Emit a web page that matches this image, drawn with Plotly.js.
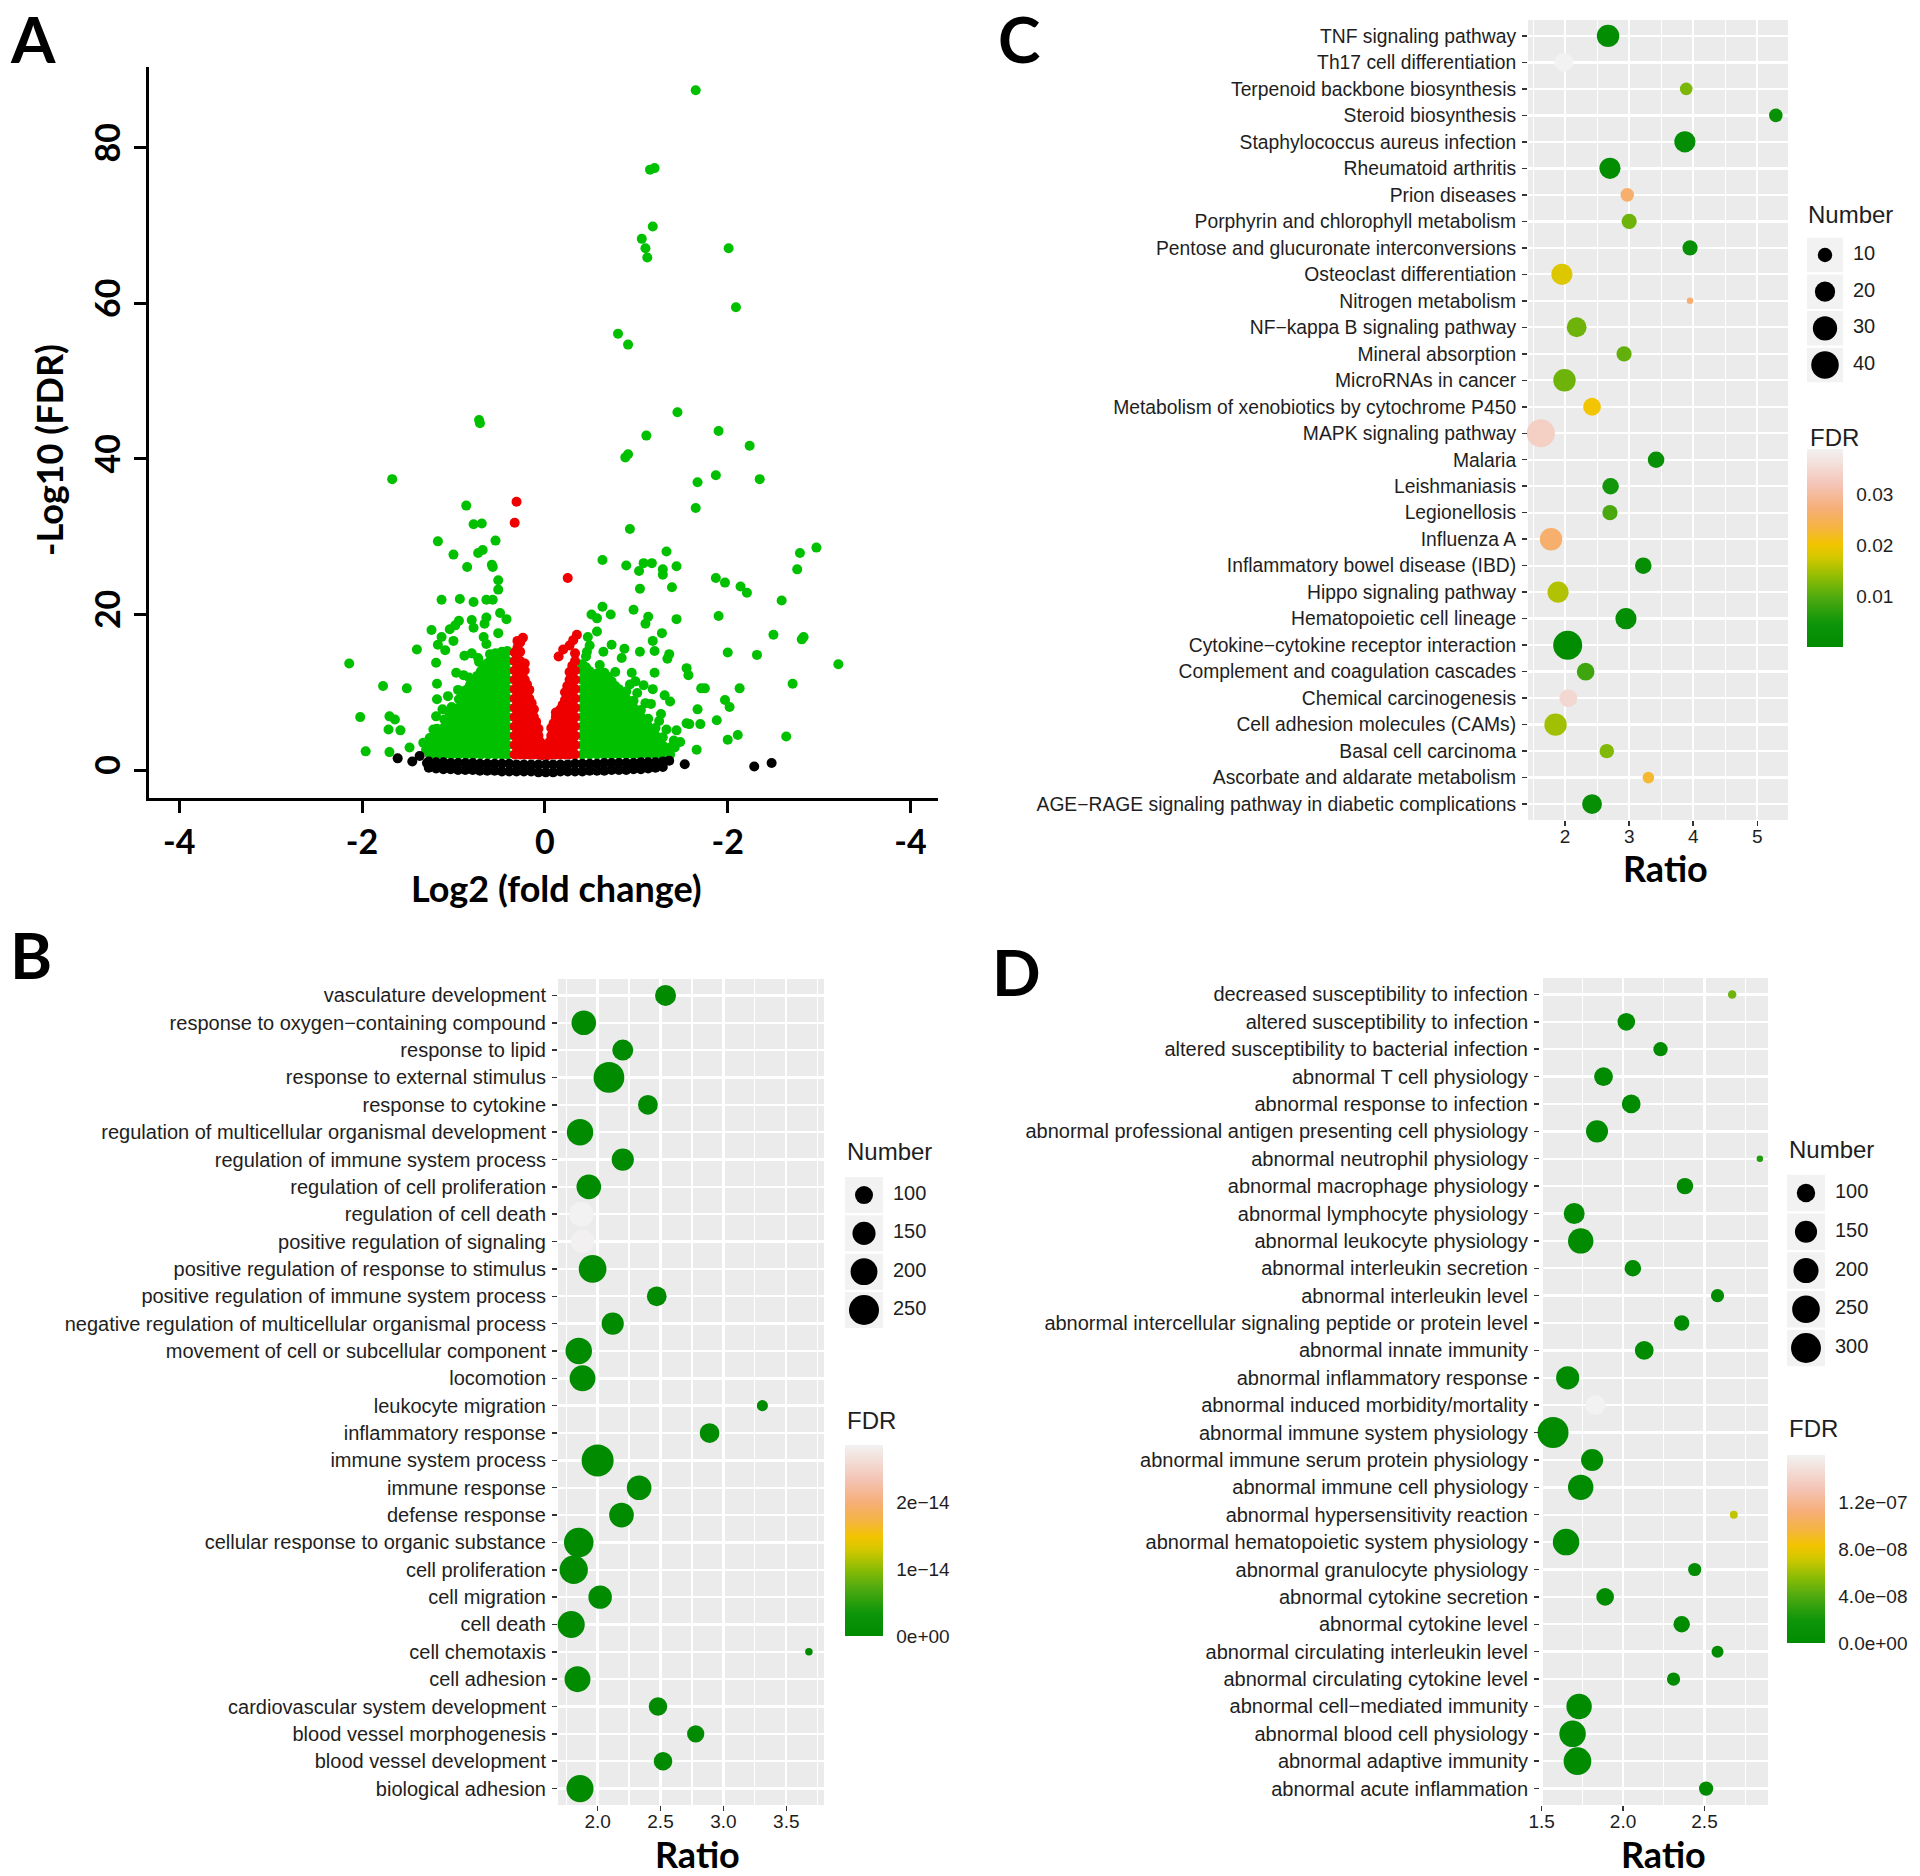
<!DOCTYPE html>
<html><head><meta charset="utf-8">
<script src="https://cdn.plot.ly/plotly-3.0.1.min.js"></script>
<style>html,body{margin:0;padding:0;background:#fff}#chart{width:1920px;height:1876px}</style>
</head><body><div id="chart"></div>
<script>
// ================= DATA =================
// ---- Panel A: volcano plot (log2 fold change, -log10 FDR) ----
const volcanoXTicks = [-4, -2, 0, 2, 4];
const volcanoXTickText = ['-4', '-2', '0', '-2', '-4'];
const volcanoYTicks = [0, 20, 40, 60, 80];

// scattered significant points (green)
const greenPoints = [
 [1.65,87.4],[1.15,77.2],[1.20,77.4],[1.18,69.9],[1.06,68.3],[1.10,67.1],[1.12,65.9],[2.01,67.1],[2.09,59.5],
 [0.80,56.1],[0.91,54.7],[1.45,46.0],[1.11,43.0],[1.90,43.6],[-0.72,45.0],[-0.71,44.6],[2.24,41.7],[0.88,40.2],
 [0.91,40.6],[-1.67,37.4],[1.87,37.9],[2.35,37.4],[1.67,37.0],[1.65,33.7],[-0.86,34.0],[0.93,31.0],[-0.78,31.6],
 [-0.69,31.7],[2.97,28.6],[-1.17,29.4],[-0.54,29.5],[2.79,27.9],[1.33,28.1],[-1.00,27.7],[-0.73,27.9],[-0.68,28.3],
 [0.63,27.0],[0.89,26.3],[1.03,25.6],[1.08,26.6],[1.17,26.6],[1.44,26.2],[1.29,25.8],[1.29,25.1],[2.76,25.8],
 [-0.85,26.1],[-0.58,26.4],[-0.57,26.1],[1.04,23.3],[1.39,23.5],[1.87,24.7],[1.97,24.1],[2.14,23.6],[2.21,22.8],
 [-0.51,24.4],[-0.51,23.2],[-1.13,21.9],[-0.93,22.0],[-0.78,21.6],[-0.64,21.9],[-0.57,21.9],[2.59,21.8],[0.63,21.0],
 [0.51,20.0],[0.57,19.5],[0.72,20.0],[0.97,20.6],[1.13,19.7],[1.10,18.8],[1.90,19.8],[1.44,19.4],[-0.49,20.2],
 [-0.42,19.4],[-0.94,19.2],[-1.04,18.1],[-0.98,18.6],[-0.80,19.3],[-0.78,18.3],[-0.64,19.6],[-0.66,18.8],[-1.24,18.0],
 [2.50,17.4],[2.83,17.1],[2.81,16.8],[1.28,17.6],[0.57,17.8],[-1.13,17.1],[-1.17,16.1],[-1.00,16.6],[-0.67,17.1],
 [-0.64,16.2],[-0.51,17.6],[-1.40,15.5],[-1.09,15.4],[2.00,15.1],[2.32,14.8],[3.21,13.6],[-2.14,13.7],[-1.19,13.8],
 [-0.88,14.7],[-0.80,15.0],[-0.73,14.4],[0.47,17.1],[0.49,16.0],[0.46,15.2],[0.64,15.2],[0.73,16.1],[0.87,15.6],
 [0.84,14.4],[1.04,15.2],[1.18,16.6],[1.20,15.3],[1.36,14.9],[1.34,14.3],[1.55,13.1],[1.57,12.2],[0.95,12.5],
 [1.20,12.5],[2.71,11.1],[2.13,10.5],[-1.77,10.8],[-1.51,10.5],[1.71,10.5],[1.75,10.5],[1.18,10.4],[-0.97,12.5],
 [-0.89,12.2],[-0.67,12.0],[-1.18,11.1],[-1.06,9.5],[-1.18,9.1],[1.37,8.8],[1.16,8.5],[1.97,9.0],[2.02,8.1],
 [1.67,7.8],[-1.02,8.1],[-1.19,6.9],[1.88,6.4],[1.58,5.9],[1.70,5.9],[1.44,5.1],[-2.02,6.8],[-1.70,6.9],[-1.64,6.5],
 [-1.71,5.2],[-1.58,5.1],[2.11,4.5],[2.00,3.9],[2.64,4.3],[1.48,3.6],[1.42,2.9],[1.66,2.6],[-1.48,2.9],[-1.96,2.4],
 [-1.70,2.3],[1.55,6.0],[1.27,7.2],[1.31,9.6],[1.08,10.9],[0.99,11.4],[-1.12,7.8],[-1.33,3.5],
 [-0.95,10.3],[-0.83,11.9],[-0.60,14.9],[-0.72,13.9],[-1.05,7.5],[-1.22,5.2],[-1.30,2.6],[0.45,14.6],[0.60,13.5],
 [0.77,12.6],[0.93,11.0],[1.01,9.9],[1.10,8.6],[1.25,6.3],[1.33,5.2],[1.41,3.8]
];
// dense significant cloud (green): [log2FC, [-log10 FDR values]]
const greenColumns = [
 [-1.26,[2.0,3.0,4.1]],
 [-1.22,[2.6,3.6]],
 [-1.18,[2.0,3.1,4.2,5.3]],
 [-1.14,[2.6,3.7,4.8]],
 [-1.10,[2.0,3.2,4.3,5.5,6.5]],
 [-1.06,[2.6,3.8,4.9,6.0]],
 [-1.02,[2.0,3.2,4.4,5.6,6.8]],
 [-0.98,[2.6,3.8,5.0,6.2,7.4]],
 [-0.94,[2.0,3.2,4.4,5.6,6.8,8.0,9.1]],
 [-0.90,[2.6,3.8,5.0,6.2,7.4,8.6,9.7]],
 [-0.86,[2.0,3.2,4.4,5.6,6.8,8.0,9.2,10.3]],
 [-0.82,[2.6,3.8,5.0,6.2,7.4,8.6,9.8,10.9]],
 [-0.78,[2.0,3.2,4.4,5.6,6.8,8.0,9.2,10.4,11.5]],
 [-0.74,[2.6,3.8,5.0,6.2,7.4,8.6,9.8,11.0,12.1]],
 [-0.70,[2.0,3.2,4.4,5.6,6.8,8.0,9.2,10.4,11.6,12.7]],
 [-0.66,[2.6,3.8,5.0,6.2,7.4,8.6,9.8,11.0,12.2,13.2]],
 [-0.62,[2.0,3.2,4.4,5.6,6.8,8.0,9.2,10.4,11.6,12.8,13.8]],
 [-0.58,[2.6,3.8,5.0,6.2,7.4,8.6,9.8,11.0,12.2,13.4,14.4]],
 [-0.54,[2.0,3.2,4.4,5.6,6.8,8.0,9.2,10.4,11.6,12.8,14.0,15.0]],
 [-0.50,[2.6,3.8,5.0,6.2,7.4,8.6,9.8,11.0,12.2,13.4,14.6]],
 [-0.47,[2.0,3.2,4.4,5.6,6.8,8.0,9.2,10.4,11.6,12.8,14.0,15.2]],
 [-0.44,[2.6,3.8,5.0,6.2,7.4,8.6,9.8,11.0,12.2,13.4,14.6]],
 [-0.41,[2.0,3.2,4.4,5.6,6.8,8.0,9.2,10.4,11.6,12.8,14.0,15.3]],
 [0.41,[2.0,3.2,4.4,5.6,6.8,8.0,9.2,10.4,11.6,12.8,13.6]],
 [0.45,[2.6,3.8,5.0,6.2,7.4,8.6,9.8,11.0,12.2,13.2]],
 [0.49,[2.0,3.2,4.4,5.6,6.8,8.0,9.2,10.4,11.6,12.7]],
 [0.53,[2.6,3.8,5.0,6.2,7.4,8.6,9.8,11.0,12.0]],
 [0.57,[2.0,3.2,4.4,5.6,6.8,8.0,9.2,10.4,11.6,12.4]],
 [0.61,[2.6,3.8,5.0,6.2,7.4,8.6,9.8,11.0,12.1]],
 [0.65,[2.0,3.2,4.4,5.6,6.8,8.0,9.2,10.4,11.6,12.5]],
 [0.69,[2.6,3.8,5.0,6.2,7.4,8.6,9.8,11.0,12.0]],
 [0.73,[2.0,3.2,4.4,5.6,6.8,8.0,9.2,10.4,11.4]],
 [0.77,[2.6,3.8,5.0,6.2,7.4,8.6,9.8,10.8]],
 [0.81,[2.0,3.2,4.4,5.6,6.8,8.0,9.2,10.4]],
 [0.85,[2.6,3.8,5.0,6.2,7.4,8.6,9.7]],
 [0.89,[2.0,3.2,4.4,5.6,6.8,8.0,9.2,10.1]],
 [0.93,[2.6,3.8,5.0,6.2,7.4,8.5]],
 [0.97,[2.0,3.2,4.4,5.6,6.8,8.0,8.9]],
 [1.01,[2.6,3.8,5.0,6.2,7.3]],
 [1.05,[2.0,3.2,4.4,5.6,6.8,7.7]],
 [1.09,[2.6,3.8,5.0,6.1]],
 [1.13,[2.0,3.2,4.4,5.6,6.6]],
 [1.17,[2.6,3.8,5.0]],
 [1.21,[2.0,3.2,4.4,5.4]],
 [1.25,[2.6,3.7]],
 [1.29,[2.0,3.1,4.2]],
 [1.33,[2.5]],
 [1.37,[2.0,2.9]]
];
// FDR-significant but small fold change (red)
const redPoints = [
 [-0.31,34.5],[-0.33,31.8],[0.25,24.7],[-0.24,17.0],[-0.30,16.6],[0.15,14.6],[0.20,15.5],[0.27,16.0],[0.31,16.7],[0.35,17.4]
];
const redColumns = [
 [-0.33,[2.0,3.2,4.4,5.6,6.8,8.0,9.2,10.4,11.6,12.8,14.0,15.1]],
 [-0.30,[2.6,3.8,5.0,6.2,7.4,8.6,9.8,11.0,12.2,13.4,14.6,15.7]],
 [-0.27,[2.0,3.2,4.4,5.6,6.8,8.0,9.2,10.4,11.6,12.8,14.0,15.2,16.4]],
 [-0.245,[2.6,3.8,5.0,6.2,7.4,8.6,9.8,11.0,12.2,13.3]],
 [-0.22,[2.0,3.2,4.4,5.6,6.8,8.0,9.2,10.4,11.6,12.8,13.7]],
 [-0.195,[2.6,3.8,5.0,6.2,7.4,8.6,9.8,11.0]],
 [-0.17,[2.0,3.2,4.4,5.6,6.8,8.0,9.2,10.3]],
 [-0.145,[2.6,3.8,5.0,6.2,7.4,8.6]],
 [-0.12,[2.0,3.2,4.4,5.6,6.8,7.8]],
 [-0.095,[2.6,3.8,5.0,6.2]],
 [-0.07,[2.0,3.2,4.4,5.3]],
 [-0.05,[2.5,3.6]],
 [-0.03,[1.9,2.8]],
 [0.03,[1.9,2.8]],
 [0.05,[2.5,3.6]],
 [0.07,[2.0,3.2,4.4,5.4]],
 [0.095,[2.6,3.8,5.0,6.0]],
 [0.12,[2.0,3.2,4.4,5.6,6.8,7.4]],
 [0.145,[2.6,3.8,5.0,6.2,7.0]],
 [0.17,[2.0,3.2,4.4,5.6,6.8,7.8]],
 [0.195,[2.6,3.8,5.0,6.2,7.4,8.4]],
 [0.22,[2.0,3.2,4.4,5.6,6.8,8.0,9.0,10.0]],
 [0.245,[2.6,3.8,5.0,6.2,7.4,8.6,9.6,10.8]],
 [0.27,[2.0,3.2,4.4,5.6,6.8,8.0,9.2,10.4,11.6,12.6]],
 [0.30,[2.6,3.8,5.0,6.2,7.4,8.6,9.8,11.0,12.2,13.4]],
 [0.33,[2.0,3.2,4.4,5.6,6.8,8.0,9.2,10.4,11.6,12.8,14.0,15.0]]
];
// not significant (black)
const blackPoints = [[-1.61,1.5],[-1.37,1.8],[-1.29,0.9],[-1.45,1.1],[1.36,1.2],[1.53,0.75],[2.29,0.45],[2.48,0.9]];
const blackColumns = [
 [-1.27,[0.3,1.1]],[-1.19,[0.2,1.0]],[-1.11,[0.1,1.0]],[-1.03,[0.1,0.9]],[-0.95,[0.0,0.9]],[-0.87,[0.0,0.9]],
 [-0.79,[0.0,0.9]],[-0.71,[-0.1,0.8]],[-0.63,[-0.1,0.8]],[-0.55,[-0.1,0.8]],[-0.47,[-0.2,0.8]],[-0.39,[-0.2,0.8]],
 [-0.31,[-0.2,0.7]],[-0.23,[-0.2,0.7]],[-0.15,[-0.2,0.7]],[-0.07,[-0.3,0.7]],[0.01,[-0.3,0.7]],[0.09,[-0.3,0.7]],
 [0.17,[-0.2,0.7]],[0.25,[-0.2,0.7]],[0.33,[-0.2,0.8]],[0.41,[-0.2,0.8]],[0.49,[-0.1,0.8]],[0.57,[-0.1,0.8]],
 [0.65,[-0.1,0.9]],[0.73,[0.0,0.9]],[0.81,[0.0,0.9]],[0.89,[0.0,0.9]],[0.97,[0.1,0.9]],[1.05,[0.1,1.0]],
 [1.13,[0.2,1.0]],[1.21,[0.3,1.0]],[1.29,[0.4,1.1]]
];

// ---- Panel B: GO terms ----
const goTerms = ['vasculature development','response to oxygen−containing compound','response to lipid','response to external stimulus','response to cytokine','regulation of multicellular organismal development','regulation of immune system process','regulation of cell proliferation','regulation of cell death','positive regulation of signaling','positive regulation of response to stimulus','positive regulation of immune system process','negative regulation of multicellular organismal process','movement of cell or subcellular component','locomotion','leukocyte migration','inflammatory response','immune system process','immune response','defense response','cellular response to organic substance','cell proliferation','cell migration','cell death','cell chemotaxis','cell adhesion','cardiovascular system development','blood vessel morphogenesis','blood vessel development','biological adhesion'];
const goRatio = [2.54,1.89,2.20,2.09,2.40,1.86,2.20,1.93,1.87,1.88,1.96,2.47,2.12,1.85,1.88,3.31,2.89,2.00,2.33,2.19,1.85,1.81,2.02,1.79,3.68,1.84,2.48,2.78,2.52,1.86];
const goNumber = [127,169,127,263,115,194,140,169,169,154,213,115,140,194,186,63,115,285,169,169,242,222,154,203,58,186,104,94,104,203];
const goFDR = [3.1e-20,2.2e-24,4.5e-19,6.0e-33,1.8e-19,7.7e-21,2.4e-22,3.3e-22,2.86e-14,2.84e-14,5.1e-26,6.2e-22,1.1e-18,2.9e-24,1.7e-23,4.0e-18,9.5e-21,3.6e-38,8.8e-31,2.0e-29,1.3e-25,5.7e-24,8.1e-22,2.5e-22,6.6e-17,7.3e-23,2.6e-19,9.9e-18,3.8e-19,5.5e-23];
const goSizeBreaks = [100, 150, 200, 250];
const goFDRTicks = [0, 1e-14, 2e-14];
const goFDRTickText = ['0e+00', '1e−14', '2e−14'];

// ---- Panel C: KEGG pathways ----
const keggTerms = ['TNF signaling pathway','Th17 cell differentiation','Terpenoid backbone biosynthesis','Steroid biosynthesis','Staphylococcus aureus infection','Rheumatoid arthritis','Prion diseases','Porphyrin and chlorophyll metabolism','Pentose and glucuronate interconversions','Osteoclast differentiation','Nitrogen metabolism','NF−kappa B signaling pathway','Mineral absorption','MicroRNAs in cancer','Metabolism of xenobiotics by cytochrome P450','MAPK signaling pathway','Malaria','Leishmaniasis','Legionellosis','Influenza A','Inflammatory bowel disease (IBD)','Hippo signaling pathway','Hematopoietic cell lineage','Cytokine−cytokine receptor interaction','Complement and coagulation cascades','Chemical carcinogenesis','Cell adhesion molecules (CAMs)','Basal cell carcinoma','Ascorbate and aldarate metabolism','AGE−RAGE signaling pathway in diabetic complications'];
const keggRatio = [2.67,1.98,3.89,5.29,3.87,2.70,2.97,3.00,3.95,1.95,3.95,2.18,2.92,1.99,2.42,1.62,3.42,2.71,2.70,1.78,3.22,1.89,2.95,2.04,2.32,2.05,1.85,2.65,3.30,2.42];
const keggNumber = [25,17,8,9,22,22,9,11,11,22,5,19,11,25,15,42,13,13,11,25,13,22,22,45,15,15,25,10,7,19];
const keggFDR = [0.0010,0.0389,0.0125,0.0030,0.0015,0.0010,0.0265,0.0117,0.0025,0.0183,0.0270,0.0117,0.0110,0.0117,0.0202,0.0335,0.0025,0.0050,0.0093,0.0265,0.0020,0.0156,0.0012,0.0006,0.0085,0.0350,0.0148,0.0130,0.0226,0.0020];
const keggSizeBreaks = [10, 20, 30, 40];
const keggFDRTicks = [0.01, 0.02, 0.03];
const keggFDRTickText = ['0.01', '0.02', '0.03'];

// ---- Panel D: mammalian phenotypes ----
const mpTerms = ['decreased susceptibility to infection','altered susceptibility to infection','altered susceptibility to bacterial infection','abnormal T cell physiology','abnormal response to infection','abnormal professional antigen presenting cell physiology','abnormal neutrophil physiology','abnormal macrophage physiology','abnormal lymphocyte physiology','abnormal leukocyte physiology','abnormal interleukin secretion','abnormal interleukin level','abnormal intercellular signaling peptide or protein level','abnormal innate immunity','abnormal inflammatory response','abnormal induced morbidity/mortality','abnormal immune system physiology','abnormal immune serum protein physiology','abnormal immune cell physiology','abnormal hypersensitivity reaction','abnormal hematopoietic system physiology','abnormal granulocyte physiology','abnormal cytokine secretion','abnormal cytokine level','abnormal circulating interleukin level','abnormal circulating cytokine level','abnormal cell−mediated immunity','abnormal blood cell physiology','abnormal adaptive immunity','abnormal acute inflammation'];
const mpRatio = [2.67,2.02,2.23,1.88,2.05,1.84,2.84,2.38,1.70,1.74,2.06,2.58,2.36,2.13,1.66,1.83,1.57,1.81,1.74,2.68,1.65,2.44,1.89,2.36,2.58,2.31,1.73,1.69,1.72,2.51];
const mpNumber = [32,91,60,104,104,149,30,79,133,206,79,52,69,104,167,118,325,149,206,31,227,52,91,79,45,52,206,227,250,60];
const mpFDR = [4.8e-8,2.1e-12,6.5e-11,3.3e-13,8.0e-14,1.2e-14,2.6e-8,4.4e-11,9.1e-16,2.7e-19,3.9e-12,5.2e-11,1.5e-12,7.4e-14,6.3e-17,1.6e-7,1.1e-24,2.8e-15,5.9e-20,6.8e-8,3.0e-19,2.2e-10,4.6e-13,8.8e-13,1.9e-11,3.5e-12,7.1e-18,9.6e-21,4.2e-19,6.0e-12];
const mpSizeBreaks = [100, 150, 200, 250, 300];
const mpFDRTicks = [0, 4e-8, 8e-8, 1.2e-7];
const mpFDRTickText = ['0.0e+00', '4.0e−08', '8.0e−08', '1.2e−07'];

// ================= STYLE / LAYOUT =================
const W = 1920, H = 1876;
const FONT = '"Liberation Sans", Arial, Helvetica, sans-serif';
const BOLD = 'Lato, "Open Sans", "Liberation Sans", sans-serif';
const TXT = '#1e1e1e';
const FDR_SCALE = [[0,'#008B00'],[0.12,'#0E950A'],[0.25,'#4FAA10'],[0.35,'#8CBC04'],[0.45,'#D2C800'],[0.52,'#F3C400'],[0.6,'#F5B440'],[0.7,'#F6AE78'],[0.82,'#F4C4B6'],[1,'#F2F2F2']];

const domX = (a, b) => [a / W, b / W];
const domY = (top, bot) => [1 - bot / H, 1 - top / H];

function sizeScale(vals, dmin, dmax) {
  const lo = Math.min(...vals), hi = Math.max(...vals);
  return v => dmin + (dmax - dmin) * Math.sqrt(Math.max(0, v - lo) / (hi - lo));
}
function expand(cols, pts) {
  const x = [], y = [];
  cols.forEach(c => c[1].forEach(v => { x.push(c[0]); y.push(v); }));
  pts.forEach(p => { x.push(p[0]); y.push(p[1]); });
  return { x, y };
}

// panel geometry (pixels)
const P = {
  A: { x: [149, 938], y: [67, 798] },
  C: { x: [1528, 1788], y: [20, 820], xr: [1.42, 5.48], dt: 1, mdt: 0.5, fmt: 'd', fs: 19.3 },
  B: { x: [558, 824], y: [979, 1805], xr: [1.685, 3.80], dt: 0.5, mdt: 0.25, fmt: '.1f', fs: 20 },
  D: { x: [1540, 1768], y: [978, 1805], xr: [1.49, 2.89], dt: 0.5, mdt: 0.25, fmt: '.1f', fs: 20 }
};
const LEG = {
  C: { box: [1807, 1843], rows: [255, 365], title: [1806, 214], fdrTitle: [1808, 437], bar: [1807, 449, 198, 36] },
  B: { box: [845, 883], rows: [1195, 1310], title: [845, 1151], fdrTitle: [845, 1420], bar: [845, 1445, 191, 38] },
  D: { box: [1787, 1825], rows: [1193, 1348], title: [1787, 1149], fdrTitle: [1787, 1428], bar: [1787, 1455, 188, 38] }
};

const sizeC = sizeScale(keggNumber, 6.5, 29);
const sizeB = sizeScale(goNumber, 7.5, 32);
const sizeD = sizeScale(mpNumber, 6.5, 31);

function cbar(key, vals, texts) {
  const b = LEG[key].bar;
  return {
    x: b[0] / W, xanchor: 'left', y: 1 - b[1] / H, yanchor: 'top',
    len: b[2], lenmode: 'pixels', thickness: b[3], thicknessmode: 'pixels',
    xpad: 0, ypad: 0, outlinewidth: 0, borderwidth: 0,
    tickmode: 'array', tickvals: vals, ticktext: texts,
    ticks: 'outside', ticklen: 10, tickcolor: 'rgba(0,0,0,0)',
    tickfont: { family: FONT, size: 19, color: TXT }, title: { text: '' }
  };
}
function bubble(ax, terms, ratio, number, fdr, scale, cb) {
  return {
    type: 'scatter', mode: 'markers', x: ratio, y: terms, xaxis: 'x' + ax, yaxis: 'y' + ax,
    cliponaxis: false, hoverinfo: 'skip',
    marker: { size: number.map(scale), color: fdr, cmin: 0, cmax: Math.max(...fdr),
      colorscale: FDR_SCALE, showscale: true, colorbar: cb, line: { width: 0 }, opacity: 1 }
  };
}
const LEG_XSPAN = 3; // legend helper axis spans 3 key widths (keys + labels)
function sizeLegend(ax, key, breaks, scale) {
  const L = LEG[key];
  const bw = L.box[1] - L.box[0];
  const lx = 1 + 10 / bw;
  return [
    { type: 'scatter', mode: 'markers', x: breaks.map(() => 0.5), y: breaks.map((b, i) => i),
      xaxis: 'x' + ax, yaxis: 'y' + ax, cliponaxis: false, hoverinfo: 'skip',
      marker: { size: breaks.map(scale), color: '#000000', opacity: 1, line: { width: 0 } } },
    { type: 'scatter', mode: 'text', x: breaks.map(() => lx), y: breaks.map((b, i) => i),
      text: breaks.map(String), textposition: 'middle right', xaxis: 'x' + ax, yaxis: 'y' + ax,
      cliponaxis: false, hoverinfo: 'skip', textfont: { family: FONT, size: 20, color: TXT } }
  ];
}

const g = expand(greenColumns, greenPoints);
const r = expand(redColumns, redPoints);
const k = expand(blackColumns, blackPoints);

const traces = [
  { type: 'scatter', mode: 'markers', x: g.x, y: g.y, xaxis: 'x', yaxis: 'y', hoverinfo: 'skip', marker: { color: '#00C000', size: 10, opacity: 1, line: { width: 0 } } },
  { type: 'scatter', mode: 'markers', x: r.x, y: r.y, xaxis: 'x', yaxis: 'y', hoverinfo: 'skip', marker: { color: '#EE0000', size: 10, opacity: 1, line: { width: 0 } } },
  { type: 'scatter', mode: 'markers', x: k.x, y: k.y, xaxis: 'x', yaxis: 'y', hoverinfo: 'skip', marker: { color: '#000000', size: 10, opacity: 1, line: { width: 0 } } },
  bubble('2', keggTerms, keggRatio, keggNumber, keggFDR, sizeC, cbar('C', keggFDRTicks, keggFDRTickText)),
  bubble('3', goTerms, goRatio, goNumber, goFDR, sizeB, cbar('B', goFDRTicks, goFDRTickText)),
  bubble('4', mpTerms, mpRatio, mpNumber, mpFDR, sizeD, cbar('D', mpFDRTicks, mpFDRTickText)),
  ...sizeLegend('5', 'C', keggSizeBreaks, sizeC),
  ...sizeLegend('6', 'B', goSizeBreaks, sizeB),
  ...sizeLegend('7', 'D', mpSizeBreaks, sizeD)
];

function catAxis(p, cats, anchor) {
  return {
    domain: domY(p.y[0], p.y[1]), anchor: anchor, type: 'category',
    categoryorder: 'array', categoryarray: cats, range: [cats.length - 0.4, -0.6], autorange: false,
    tickmode: 'array', tickvals: cats, ticktext: cats,
    showgrid: true, gridcolor: '#FFFFFF', gridwidth: 2.4, zeroline: false, showline: false,
    ticks: 'outside', ticklen: 5, tickwidth: 1.5, tickcolor: '#333333', ticklabelstandoff: 2,
    tickfont: { family: FONT, size: p.fs, color: TXT }, fixedrange: true
  };
}
function ratioAxis(p, anchor) {
  return {
    domain: domX(p.x[0], p.x[1]), anchor: anchor, range: p.xr, autorange: false,
    tickmode: 'linear', tick0: 0, dtick: p.dt, tickformat: p.fmt,
    showgrid: true, gridcolor: '#FFFFFF', gridwidth: 2.4, zeroline: false, showline: false,
    minor: { dtick: p.mdt, showgrid: true, gridcolor: '#FFFFFF', gridwidth: 1.2, ticks: '' },
    ticks: 'outside', ticklen: 5, tickwidth: 1.5, tickcolor: '#333333', ticklabelstandoff: -6,
    tickfont: { family: FONT, size: 19, color: TXT }, fixedrange: true
  };
}
function legendAxes(key, n, ax) {
  const L = LEG[key];
  const bw = L.box[1] - L.box[0];
  const sp = (L.rows[1] - L.rows[0]) / (n - 1);
  return [
    { domain: domX(L.box[0], L.box[0] + LEG_XSPAN * bw), range: [0, LEG_XSPAN], visible: false, fixedrange: true, anchor: 'y' + ax },
    { domain: domY(L.rows[0] - sp / 2, L.rows[1] + sp / 2), range: [n - 0.5, -0.5], visible: false, fixedrange: true, anchor: 'x' + ax }
  ];
}
const [x5, y5] = legendAxes('C', keggSizeBreaks.length, '5');
const [x6, y6] = legendAxes('B', goSizeBreaks.length, '6');
const [x7, y7] = legendAxes('D', mpSizeBreaks.length, '7');

const boldAxisFont = { family: BOLD, size: 34, color: '#000', weight: 'bold' };

const shapes = [];
['C', 'B', 'D'].forEach(key => {
  const p = P[key];
  shapes.push({ type: 'rect', xref: 'paper', yref: 'paper', x0: p.x[0] / W, x1: p.x[1] / W,
    y0: 1 - p.y[1] / H, y1: 1 - p.y[0] / H, fillcolor: '#EBEBEB', line: { width: 0 }, layer: 'below' });
});
[['5', keggSizeBreaks], ['6', goSizeBreaks], ['7', mpSizeBreaks]].forEach(([ax, br]) => {
  br.forEach((b, i) => shapes.push({ type: 'rect', xref: 'x' + ax, yref: 'y' + ax, x0: 0, x1: 1,
    y0: i - 0.47, y1: i + 0.47, fillcolor: '#F2F2F2', line: { width: 0 }, layer: 'below' }));
});
// white tick marks on the colour bars (ggplot style), placed by value along each bar
[['C', keggFDRTicks, keggFDR], ['B', goFDRTicks, goFDR], ['D', mpFDRTicks, mpFDR]].forEach(([key, ticks, fdr]) => {
  const b = LEG[key].bar;
  const hi = Math.max(...fdr);
  ticks.forEach(v => {
    const yPix = b[1] + b[2] * (1 - v / hi);
    const yp = 1 - yPix / H;
    const tl = b[3] / 5;
    [[b[0], b[0] + tl], [b[0] + b[3] - tl, b[0] + b[3]]].forEach(([a, c]) => shapes.push({
      type: 'line', xref: 'paper', yref: 'paper', x0: a / W, x1: c / W, y0: yp, y1: yp,
      line: { color: '#FFFFFF', width: 1.5 }, layer: 'above' }));
  });
});

function ann(text, xp, yp, font, extra) {
  return Object.assign({ text: text, x: xp / W, y: 1 - yp / H, xref: 'paper', yref: 'paper',
    showarrow: false, xanchor: 'center', yanchor: 'middle', font: font }, extra || {});
}
const letterFont = { family: BOLD, size: 64, color: '#000', weight: 'bold' };
const titleFont = { family: BOLD, size: 36, color: '#000', weight: 'bold' };
const legTitleFont = { family: FONT, size: 24, color: TXT };
const annotations = [
  ann('A', 8, 38, letterFont, { xanchor: 'left' }),
  ann('B', 8, 954, letterFont, { xanchor: 'left' }),
  ann('C', 996, 38, letterFont, { xanchor: 'left' }),
  ann('D', 990, 971, letterFont, { xanchor: 'left' }),
  ann('-Log10 (FDR)', 49, 450, titleFont, { textangle: -90 }),
  ann('Log2 (fold change)', 556, 888, titleFont),
  ann('Ratio', 1665, 868, titleFont),
  ann('Ratio', 697, 1854, titleFont),
  ann('Ratio', 1663, 1854, titleFont)
];
['C', 'B', 'D'].forEach(key => {
  const L = LEG[key];
  annotations.push(ann('Number', L.title[0], L.title[1], legTitleFont, { xanchor: 'left' }));
  annotations.push(ann('FDR', L.fdrTitle[0], L.fdrTitle[1], legTitleFont, { xanchor: 'left' }));
});

const layout = {
  width: W, height: H, margin: { l: 0, r: 0, t: 0, b: 0 }, autosize: false,
  paper_bgcolor: '#FFFFFF', plot_bgcolor: 'rgba(0,0,0,0)', showlegend: false, hovermode: false,
  xaxis: {
    domain: domX(P.A.x[0], P.A.x[1]), anchor: 'y', range: [-4.33, 4.30], autorange: false,
    tickmode: 'array', tickvals: volcanoXTicks, ticktext: volcanoXTickText,
    showline: true, linewidth: 3, linecolor: '#000', showgrid: false, zeroline: false,
    ticks: 'outside', ticklen: 12, tickwidth: 3, tickcolor: '#000', ticklabelstandoff: 0,
    tickfont: boldAxisFont, fixedrange: true
  },
  yaxis: {
    domain: domY(P.A.y[0], P.A.y[1]), anchor: 'x', range: [-3.6, 90.4], autorange: false,
    tickmode: 'array', tickvals: volcanoYTicks, tickangle: -90,
    showline: true, linewidth: 3, linecolor: '#000', showgrid: false, zeroline: false,
    ticks: 'outside', ticklen: 12, tickwidth: 3, tickcolor: '#000', ticklabelstandoff: 0,
    tickfont: boldAxisFont, fixedrange: true
  },
  xaxis2: ratioAxis(P.C, 'y2'), yaxis2: catAxis(P.C, keggTerms, 'x2'),
  xaxis3: ratioAxis(P.B, 'y3'), yaxis3: catAxis(P.B, goTerms, 'x3'),
  xaxis4: ratioAxis(P.D, 'y4'), yaxis4: catAxis(P.D, mpTerms, 'x4'),
  xaxis5: x5, yaxis5: y5, xaxis6: x6, yaxis6: y6, xaxis7: x7, yaxis7: y7,
  shapes: shapes, annotations: annotations
};

Plotly.newPlot('chart', traces, layout, { staticPlot: true, displayModeBar: false });
</script>
</body></html>
